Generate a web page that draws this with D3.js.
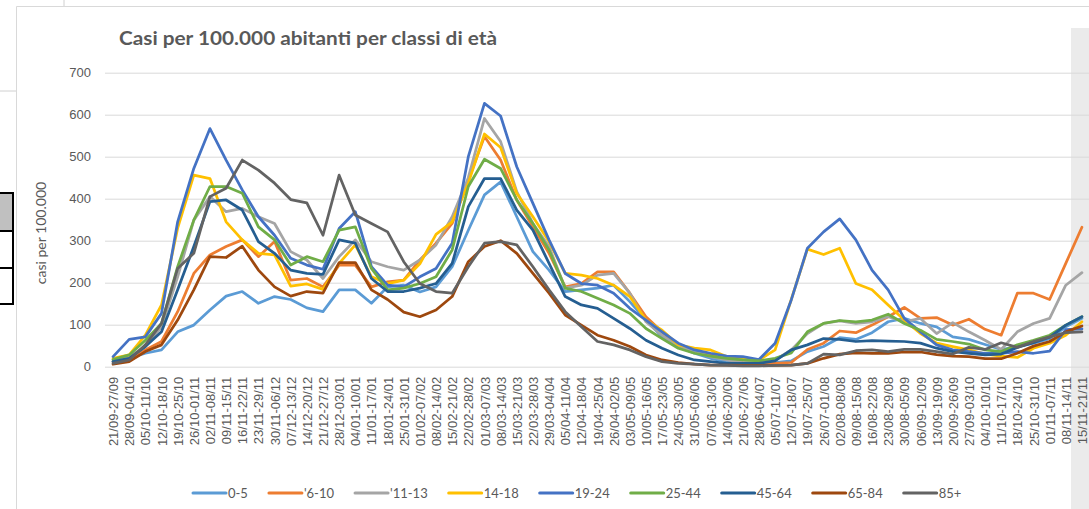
<!DOCTYPE html>
<html>
<head>
<meta charset="utf-8">
<script src="https://cdn.jsdelivr.net/npm/d3@7"></script>
<style>
  body { margin: 0; background: #fff; }
  svg { display: block; font-family: Lato, "Open Sans", sans-serif; }
</style>
</head>
<body>
<div id="chart"></div>
<script>
// weekly categories (2020-2021)
const weeks = ["21/09-27/09","28/09-04/10","05/10-11/10","12/10-18/10","19/10-25/10","26/10-01/11","02/11-08/11","09/11-15/11","16/11-22/11","23/11-29/11",
  "30/11-06/12","07/12-13/12","14/12-20/12","21/12-27/12","28/12-03/01","04/01-10/01","11/01-17/01","18/01-24/01","25/01-31/01","01/02-07/02",
  "08/02-14/02","15/02-21/02","22/02-28/02","01/03-07/03","08/03-14/03","15/03-21/03","22/03-28/03","29/03-04/04","05/04-11/04","12/04-18/04",
  "19/04-25/04","26/04-02/05","03/05-09/05","10/05-16/05","17/05-23/05","24/05-30/05","31/05-06/06","07/06-13/06","14/06-20/06","21/06-27/06",
  "28/06-04/07","05/07-11/07","12/07-18/07","19/07-25/07","26/07-01/08","02/08-08/08","09/08-15/08","16/08-22/08","23/08-29/08","30/08-05/09",
  "06/09-12/09","13/09-19/09","20/09-26/09","27/09-03/10","04/10-10/10","11/10-17/10","18/10-24/10","25/10-31/10","01/11-07/11","08/11-14/11",
  "15/11-21/11"];

const v05 = [12,20,32,40,83,99,135,168,179,151, 167,160,140,131,183,183,151,190,194,178,
  190,238,325,409,440,357,274,230,179,183, 187,194,155,111,71,48,32,20,12,8,
  6,10,14,36,48,69,65,81,107,115, 103,95,71,65,53,41,48,56,67,95, 115];
const v610 = [12,16,40,60,131,222,266,286,302,262, 298,206,210,190,242,242,190,202,206,254,
  294,341,444,548,492,397,333,270,190,198, 226,226,175,119,83,52,40,28,18,10,
  8,8,10,41,56,85,81,99,119,141, 115,117,99,113,89,75,175,175,160,246, 332];
const v1113 = [16,24,48,95,214,349,405,369,377,357, 341,274,254,210,262,302,250,238,230,254,
  290,357,450,591,536,417,341,286,187,194, 218,222,175,107,75,48,36,24,16,10,
  12,16,40,79,103,109,103,107,119,107, 115,79,105,83,63,41,83,103,115,194, 224];
const v1418 = [20,28,75,147,330,456,448,345,302,270, 266,192,197,184,246,290,214,198,206,245,
  315,345,437,554,522,413,357,298,222,218, 210,194,167,111,87,52,44,40,24,20,
  16,40,160,280,267,282,198,183,147,111, 79,56,48,40,30,25,22,44,56,75, 107];
const v1924 = [24,65,71,127,345,472,567,492,421,357, 313,258,242,232,329,369,238,194,190,214,
  234,294,500,627,597,476,389,302,222,198, 194,175,139,111,83,56,40,32,25,24,
  17,56,159,282,321,352,302,230,183,115, 83,52,40,36,32,32,36,32,37,88, 90];
const v2544 = [17,28,63,103,238,349,429,429,413,333, 302,242,262,250,325,333,234,183,187,198,
  214,278,429,494,472,397,341,278,187,179, 163,147,127,91,67,44,32,25,20,16,
  14,20,33,83,103,110,107,111,125,103, 87,65,60,54,40,36,52,63,75,99, 119];
const v4564 = [12,20,48,83,183,286,393,397,373,298, 270,230,222,220,302,294,210,179,179,187,
  198,246,381,448,448,373,325,246,167,147, 139,115,91,63,44,28,16,12,8,8,
  8,14,40,52,67,65,60,62,61,60, 56,44,36,32,28,30,46,57,70,99, 119];
const v6584 = [6,12,36,52,111,183,262,260,287,230, 190,168,179,175,248,248,183,160,130,119,
  135,167,250,286,300,270,222,175,123,99, 75,63,48,28,16,10,6,4,4,3,
  3,3,4,8,20,30,33,32,32,35, 35,29,25,24,19,19,32,49,60,83, 97];
const v85 = [8,16,52,103,234,270,405,425,492,468, 437,398,390,313,456,361,341,321,250,198,
  179,175,238,294,298,290,238,183,131,95, 60,52,40,24,12,8,6,4,3,2,
  2,3,4,8,30,28,38,40,36,41, 41,36,30,46,41,57,46,60,71,81, 83];

const seriesNames = ["0-5", "'6-10", "'11-13", "14-18", "19-24", "25-44", "45-64", "65-84", "85+"];
const seriesValues = [v05, v610, v1113, v1418, v1924, v2544, v4564, v6584, v85];
const colors = ["#5B9BD5", "#ED7D31", "#A5A5A5", "#FFC000", "#4472C4", "#70AD47", "#255E91", "#9E480E", "#636363"];
const yTicks = [0, 100, 200, 300, 400, 500, 600, 700];

const W = 1089, H = 509;
const plot = { left: 105, right: 1090, top: 72.7, bottom: 366.7 };

const svg = d3.select("#chart").append("svg")
    .attr("width", W)
    .attr("height", H);

// spreadsheet bits around the chart
svg.append("rect").attr("x", 1071).attr("y", 28).attr("width", 18).attr("height", H - 28).attr("fill", "#ebebeb");
svg.append("line").attr("x1", 64).attr("x2", 64).attr("y1", 0).attr("y2", 6).attr("stroke", "#d0d0d0");
svg.append("line").attr("x1", 0).attr("x2", 16).attr("y1", 91).attr("y2", 91).attr("stroke", "#d0d0d0");
svg.append("rect").attr("x", -2).attr("y", 193).attr("width", 15).attr("height", 38).attr("fill", "#c0c0c0").attr("stroke", "#000").attr("stroke-width", 2);
svg.append("rect").attr("x", -2).attr("y", 231).attr("width", 15).attr("height", 37).attr("fill", "#fff").attr("stroke", "#000").attr("stroke-width", 2);
svg.append("rect").attr("x", -2).attr("y", 268).attr("width", 15).attr("height", 36).attr("fill", "#fff").attr("stroke", "#000").attr("stroke-width", 2);
// chart frame
svg.append("path").attr("d", "M16.5," + H + "V6.5H" + W).attr("fill", "none").attr("stroke", "#d9d9d9");

const x = d3.scalePoint()
    .domain(weeks)
    .range([plot.left, plot.right])
    .padding(0.5);

const y = d3.scaleLinear()
    .domain([0, 700])
    .range([plot.bottom, plot.top]);

// y axis with gridlines
const yAxis = d3.axisLeft(y)
    .tickValues(yTicks)
    .tickSize(-(W - plot.left))
    .tickPadding(14);
const gy = svg.append("g")
    .attr("transform", "translate(" + plot.left + ",0)")
    .call(yAxis);
gy.select(".domain").remove();
gy.selectAll(".tick line").attr("stroke", "#d9d9d9");
gy.selectAll(".tick text")
    .attr("fill", "#595959")
    .style("font-size", "13px");

svg.append("text")
    .attr("transform", "translate(46,233) rotate(-90)")
    .attr("text-anchor", "middle")
    .attr("fill", "#595959")
    .style("font-size", "14px")
    .text("casi per 100.000");

// x axis
const xAxis = d3.axisBottom(x).tickSize(0);
const gx = svg.append("g")
    .attr("transform", "translate(0," + plot.bottom + ")")
    .call(xAxis);
gx.select(".domain").remove();
gx.selectAll(".tick text")
    .attr("fill", "#595959")
    .style("font-size", "13px")
    .attr("text-anchor", "end")
    .attr("y", 0)
    .attr("x", -10)
    .attr("dy", "0.35em")
    .attr("transform", "rotate(-90)");

// lines
const line = d3.line()
    .x((d, i) => x(weeks[i]))
    .y(d => y(d));

seriesValues.forEach(function (vals, k) {
    svg.append("path")
        .datum(vals)
        .attr("fill", "none")
        .attr("stroke", colors[k])
        .attr("stroke-width", 2.75)
        .attr("stroke-linejoin", "round")
        .attr("stroke-linecap", "round")
        .attr("d", line);
});

// title
svg.append("text")
    .attr("x", 119)
    .attr("y", 45)
    .attr("fill", "#595959")
    .attr("textLength", 378)
    .attr("lengthAdjust", "spacingAndGlyphs")
    .style("font-size", "19px")
    .style("font-weight", "bold")
    .text("Casi per 100.000 abitanti per classi di età");

// legend
let lx = 193;
const ly = 493;
seriesNames.forEach(function (name, k) {
    svg.append("line")
        .attr("x1", lx).attr("x2", lx + 33)
        .attr("y1", ly).attr("y2", ly)
        .attr("stroke", colors[k])
        .attr("stroke-width", 3)
        .attr("stroke-linecap", "round");
    const t = svg.append("text")
        .attr("x", lx + 35)
        .attr("y", ly + 4.5)
        .attr("fill", "#595959")
        .style("font-size", "13px")
        .text(name);
    lx += 35 + t.node().getComputedTextLength() + 21;
});
</script>
</body>
</html>
